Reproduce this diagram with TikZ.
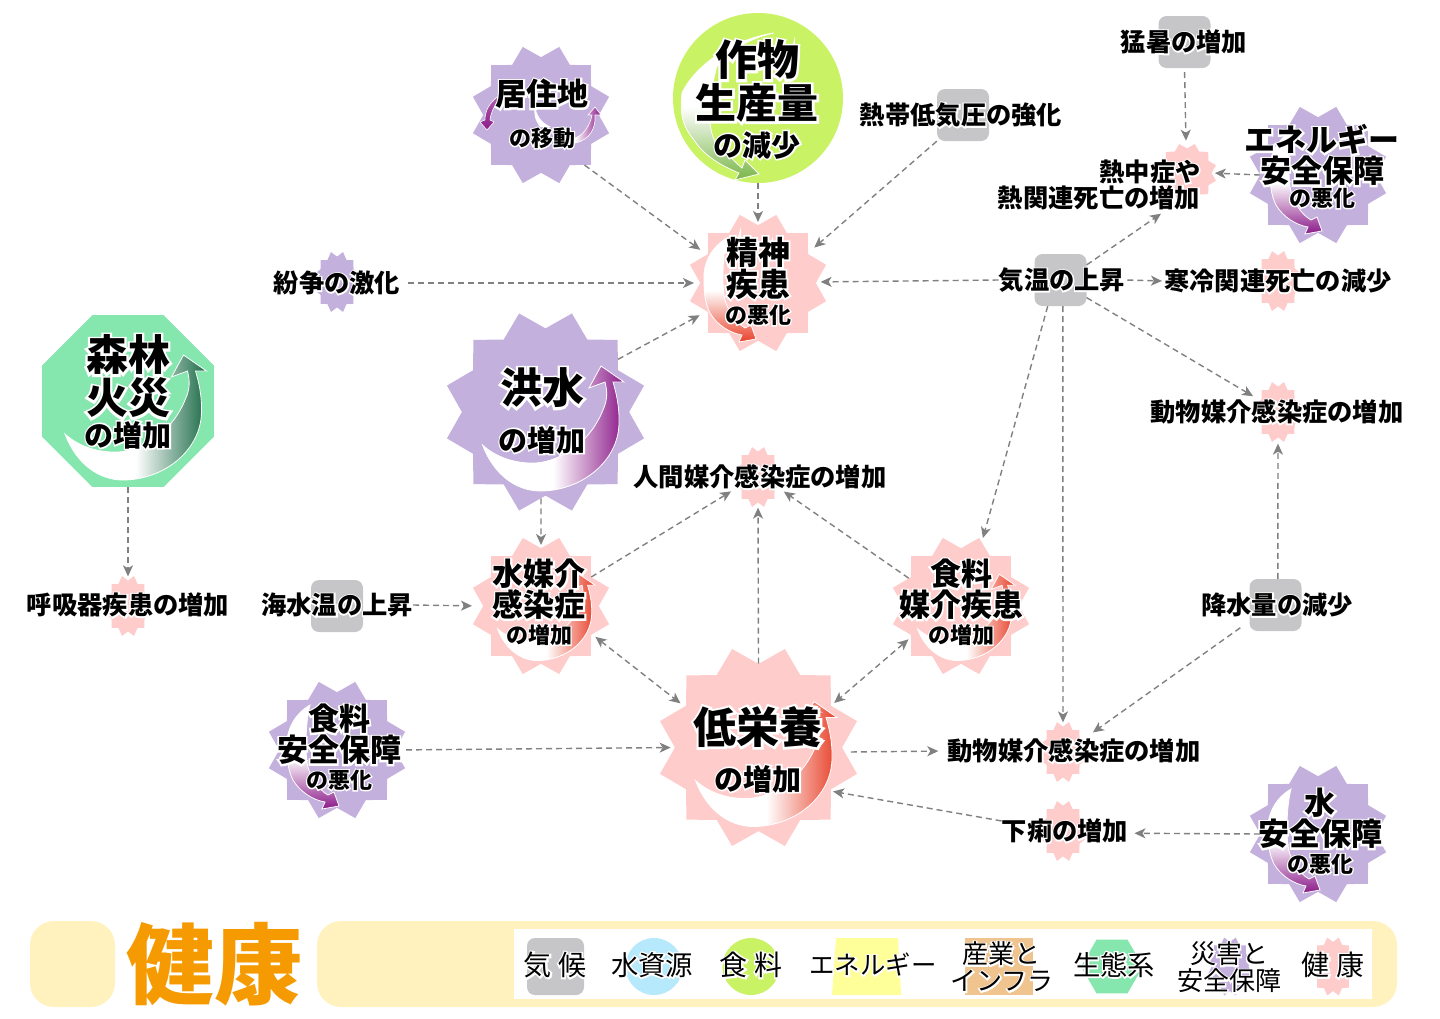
\documentclass[tikz,border=0pt]{standalone}
\usepackage{fontspec}
\usetikzlibrary{arrows.meta,shapes.geometric}
\newfontfamily\jp{Noto Sans CJK JP}
\newfontfamily\jph{Noto Sans CJK JP}[FakeBold=11]
\definecolor{cgray}{HTML}{C6C6C8}
\definecolor{cpurple}{HTML}{C3B0DC}
\definecolor{cpink}{HTML}{FFCCCC}
\definecolor{cgreen}{HTML}{C9F264}
\definecolor{cmint}{HTML}{85E6AE}
\definecolor{ccream}{HTML}{FFF2BF}
\definecolor{corange}{HTML}{F59A00}
\definecolor{csky}{HTML}{B5E9FB}
\definecolor{cyel}{HTML}{FFFF99}
\definecolor{ctan}{HTML}{EFC48E}
\definecolor{cline}{HTML}{808080}
\definecolor{apurple}{HTML}{8B1A89}
\definecolor{ared}{HTML}{E8412A}
\definecolor{agreen}{HTML}{7AB648}
\definecolor{adark}{HTML}{1C6B47}
\newcommand{\halo}[1]{\leavevmode\rlap{\color{white}\jph #1}#1}
\newcommand{\upswoosh}[4]{%
  \shadedraw[draw=white,line width=.8pt,left color=white,right color=#4,middle color=white,shift={(#1,#2)},scale=#3]
    (-63,33) .. controls (-52,62) and (-30,79) .. (-5,79)
    .. controls (35,79) and (73,50) .. (73.5,11)
    .. controls (74,-5) and (71,-18) .. (67.5,-30)
    -- (78.5,-30) -- (55.5,-46) -- (43.5,-24) -- (59.5,-30)
    .. controls (62,-20) and (62,-12) .. (57.5,-2)
    .. controls (52,12) and (42,26) .. (29.5,35)
    .. controls (18,44) and (4,50) .. (-9.5,51)
    .. controls (-30,52) and (-50,45) .. (-63,33) -- cycle;}
\newcommand{\downswoosh}[4]{%
  \shadedraw[draw=white,line width=.8pt,top color=white,bottom color=#4,middle color=white,shift={(#1,#2)},scale=#3]
    (-31,-45) .. controls (-48,-35) and (-55,-18) .. (-54,-3)
    .. controls (-54,10) and (-53,20) .. (-48,30)
    .. controls (-41,42) and (-28,50) .. (-16,52)
    -- (-19,59) -- (-2,56) -- (-7,42) -- (-13,45)
    .. controls (-22,40) and (-30,28) .. (-33,17)
    .. controls (-36,5) and (-36,-25) .. (-31,-45) -- cycle;}
\tikzset{
  starnode/.style={star,star points=12,star point ratio=1.22,shape border rotate=15,inner sep=0pt,draw=none},
  bigstar/.style={starnode,minimum size=204pt,fill=#1},
  midstar/.style={starnode,minimum size=141pt,fill=#1},
  smallstar/.style={starnode,minimum size=62pt,fill=#1,xscale=.75,transform shape},
  graybox/.style={rectangle,rounded corners=8pt,minimum size=52pt,inner sep=0pt,fill=cgray},
  tx/.style={inner sep=0pt,font=\jp\bfseries\fontsize{#1}{#1}\selectfont,text height=#1*.88pt,text depth=#1*.12pt},
  legtx/.style={inner sep=0pt,font=\jp\fontsize{#1}{#1}\selectfont,text height=#1*.88pt,text depth=#1*.12pt},
  flow/.style={draw=cline,line width=1.4pt,dash pattern=on 6pt off 4pt,-{Stealth[length=11pt,width=10pt,inset=3pt,fill=cline]}},
  flowtwo/.style={draw=cline,line width=1.4pt,dash pattern=on 6pt off 4pt,{Stealth[length=11pt,width=10pt,inset=3pt,fill=cline]}-{Stealth[length=11pt,width=10pt,inset=3pt,fill=cline]}}
}
\begin{document}
\begin{tikzpicture}[x=1pt,y=-1pt]
  \useasboundingbox (0,0) rectangle (1440,1018);

  \node[circle,fill=cgreen,minimum size=170pt,inner sep=0pt] (saku) at (758,98) {};
  \node[regular polygon,regular polygon sides=8,fill=cmint,minimum size=186pt,inner sep=0pt] (shin) at (128,401) {};
  \node[midstar=cpurple] (kyo) at (541,115) {};
  \node[midstar=cpink] (sei) at (758,283) {};
  \node[bigstar=cpurple] (kou) at (545.5,412) {};
  \node[midstar=cpink] (mizu) at (541,606) {};
  \node[midstar=cpink] (shok) at (961,606) {};
  \node[bigstar=cpink] (tei) at (758.5,747.5) {};
  \node[midstar=cpurple] (shokA) at (337,750) {};
  \node[midstar=cpurple] (eneA) at (1318,175) {};
  \node[midstar=cpurple] (mizuA) at (1318,834) {};

  \node[smallstar=cpurple] (fun) at (337,282) {};
  \node[smallstar=cpink] (koS) at (128,606) {};
  \node[smallstar=cpink] (ninS) at (758,477) {};
  \node[smallstar=cpink] (doU) at (1278,412) {};
  \node[smallstar=cpink] (doL) at (1063,752) {};
  \node[smallstar=cpink] (geri) at (1063,831) {};
  \node[smallstar=cpink] (kan) at (1278,281) {};
  \node[starnode,minimum size=60pt,fill=cpink] (nechu) at (1187,173) {};

  \node[graybox] (moB) at (1184.5,42) {};
  \node[graybox] (netB) at (963,115) {};
  \node[graybox] (kiB) at (1060.5,280) {};
  \node[graybox] (kaiB) at (337,606) {};
  \node[graybox] (kuB) at (1275.5,605) {};

  \upswoosh{128}{401}{1}{adark}
  \upswoosh{545.5}{412}{1}{apurple}
  \upswoosh{758.5}{747.5}{1}{ared}
  \upswoosh{541}{606}{.69}{ared}
  \upswoosh{961}{606}{.69}{ared}
  \downswoosh{758}{283}{1}{ared}
  \downswoosh{1324}{175}{1}{apurple}
  \downswoosh{341}{750}{1}{apurple}
  \downswoosh{1322}{834}{1}{apurple}
  \shadedraw[draw=white,line width=.8pt,top color=white,bottom color=agreen,middle color=white]
    (774,33) .. controls (740,38) and (698,60) .. (682,93)
    .. controls (680,115) and (682,125) .. (694,140)
    .. controls (704,156) and (722,166) .. (739,173)
    -- (735,180) -- (759,174) -- (745,160) -- (742,168)
    .. controls (730,158) and (722,146) .. (717,146)
    .. controls (708,130) and (706,105) .. (717,66)
    .. controls (730,50) and (750,38) .. (774,33) -- cycle;
  \shadedraw[draw=white,line width=.6pt,left color=white,right color=apurple]
    (575,143) .. controls (590,140) and (596,128) .. (595,115)
    -- (601,115) -- (595,107) -- (588,115) -- (592,115)
    .. controls (590,125) and (584,135) .. (575,138) -- cycle;
  \shadedraw[draw=white,line width=.6pt,top color=apurple!70,bottom color=apurple]
    (497,97) .. controls (490,103) and (485,110) .. (485,120)
    -- (480,122) -- (487,130) -- (494,122) -- (490,120)
    .. controls (491,112) and (494,106) .. (499,101) -- cycle;
  \fill[white] (535,107) .. controls (537,115) and (540,122) .. (551,127) -- (540,127) .. controls (535,120) and (533,113) .. (535,107) -- cycle;

  \node[tx=31] (kyoA) at (542,94) {\halo{居住地}};
  \node[tx=22] (kyoB) at (542,138) {\halo{の移動}};
  \node[tx=42] (sakuA) at (757,60) {\halo{作物}};
  \node[tx=41] (sakuB) at (757,103) {\halo{生産量}};
  \node[tx=29] (sakuC) at (757,145) {\halo{の減少}};
  \node[tx=25.3] (netT) at (961,115) {\halo{熱帯低気圧の強化}};
  \node[tx=25.3] (moT) at (1184,42) {\halo{猛暑の増加}};
  \node[tx=25.3] (nechuA) at (1150,172) {\halo{熱中症や}};
  \node[tx=25.3] (nechuL) at (1099,198) {\halo{熱関連死亡の増加}};
  \node[tx=31] (eneB) at (1322,140) {\halo{エネルギー}};
  \node[tx=31] (eneC) at (1322,171) {\halo{安全保障}};
  \node[tx=22] (eneD) at (1322,198) {\halo{の悪化}};
  \node[tx=25.3] (funT) at (337,283) {\halo{紛争の激化}};
  \node[tx=32] (seiA) at (758,252) {\halo{精神}};
  \node[tx=32] (seiB) at (758,284) {\halo{疾患}};
  \node[tx=22] (seiC) at (758,315) {\halo{の悪化}};
  \node[tx=25.3] (kiT) at (1062,280) {\halo{気温の上昇}};
  \node[tx=25.3] (kanT) at (1278,281) {\halo{寒冷関連死亡の減少}};
  \node[tx=42] (shinA) at (128,355) {\halo{森林}};
  \node[tx=42] (shinB) at (128,398) {\halo{火災}};
  \node[tx=29] (shinC) at (128,435) {\halo{の増加}};
  \node[tx=42] (kouA) at (542,388) {\halo{洪水}};
  \node[tx=29] (kouB) at (542,440) {\halo{の増加}};
  \node[tx=25.3] (ninT) at (760,477) {\halo{人間媒介感染症の増加}};
  \node[tx=25.3] (doUT) at (1277,412) {\halo{動物媒介感染症の増加}};
  \node[tx=25.3] (koT) at (128,605) {\halo{呼吸器疾患の増加}};
  \node[tx=25.3] (kaiT) at (337,605) {\halo{海水温の上昇}};
  \node[tx=31] (mizuB) at (539,574) {\halo{水媒介}};
  \node[tx=31] (mizuC) at (539,605) {\halo{感染症}};
  \node[tx=22] (mizuD) at (539,635) {\halo{の増加}};
  \node[tx=31] (shokB) at (961,574) {\halo{食料}};
  \node[tx=31] (shokC) at (961,605) {\halo{媒介疾患}};
  \node[tx=22] (shokD) at (961,635) {\halo{の増加}};
  \node[tx=25.3] (kuT) at (1277,605) {\halo{降水量の減少}};
  \node[tx=31] (shokE) at (339,719) {\halo{食料}};
  \node[tx=31] (shokF) at (339,750) {\halo{安全保障}};
  \node[tx=22] (shokG) at (339,780) {\halo{の悪化}};
  \node[tx=43] (teiA) at (758,727) {\halo{低栄養}};
  \node[tx=29] (teiB) at (758,779) {\halo{の増加}};
  \node[tx=25.3] (doLT) at (1074,751) {\halo{動物媒介感染症の増加}};
  \node[tx=25.3] (geriT) at (1065,831) {\halo{下痢の増加}};
  \node[tx=31] (mizuE) at (1320,803) {\halo{水}};
  \node[tx=31] (mizuF) at (1320,834) {\halo{安全保障}};
  \node[tx=22] (mizuG) at (1320,864) {\halo{の悪化}};

  \draw[flow,shorten >=8pt] (kyo.-49) -- (sei.151);
  \draw[flow,shorten >=3pt] (saku) -- (sei);
  \draw[flow,shorten >=8pt] (netB.south west) -- (sei.31);
  \draw[flow,shorten <=8pt,shorten >=6pt] (funT.east) -- (sei.180);
  \draw[flow,shorten >=8pt] (kou.36) -- (sei.209);
  \draw[flow,shorten >=4pt] (kiT.west) -- (sei.1);
  \draw[flow,shorten <=4pt,shorten >=7pt] (moB.south) -- (nechu.92);
  \draw[flow,shorten >=3pt] (eneA.180) -- (nechu.0);
  \draw[flow,shorten >=5pt] (kiB.30) -- (nechuL.-11.6);
  \draw[flow,shorten <=2pt,shorten >=2pt] (kiT.east) -- (kanT.west);
  \draw[flow,shorten >=8pt] (kiB.-34) -- (doU.154);
  \draw[flow,shorten >=4pt] (kiB.-116) -- (shok.72);
  \draw[flow,shorten >=4pt] (kiB.-85) -- (doL.90);
  \draw[flow,shorten >=6pt] (kuB.85) -- (doU.-90);
  \draw[flow,shorten <=11pt,shorten >=14pt] (kuB.212) -- (doL.25);
  \draw[flow,shorten >=4pt] (shin.south) -- (koS.90);
  \draw[flow,shorten >=3pt] (kou.-93) -- (mizu.90);
  \draw[flow,shorten >=11pt] (kaiT.east) -- (mizu.180);
  \draw[flow,shorten >=3pt] (mizu.30) -- (ninT.206.6);
  \draw[flow,shorten >=5pt] (tei.90) -- (ninS.-90);
  \draw[flow,shorten >=3pt] (shok.152) -- (ninT.-31);
  \draw[flowtwo,shorten <=4pt,shorten >=5pt] (mizu.-29) -- (tei.151);
  \draw[flowtwo,shorten <=3pt,shorten >=4pt] (shok.212) -- (tei.30);
  \draw[flow,shorten <=11pt,shorten >=4pt] (shokA.0) -- (tei.180);
  \draw[flow,shorten <=6pt,shorten >=9pt] (tei.-3) -- (doLT.west);
  \draw[flow,shorten >=2pt] (geriT.171) -- (tei.-31);
  \draw[flow,shorten >=6pt] (mizuA.180) -- (geriT.-2);

  \node[rectangle,rounded corners=24pt,fill=ccream,minimum width=85pt,minimum height=86pt,inner sep=0pt] (tab) at (72.5,964) {};
  \node[rectangle,rounded corners=24pt,fill=ccream,minimum width=1080pt,minimum height=86pt,inner sep=0pt] (bar) at (857,964) {};
  \node[rectangle,fill=white,minimum width=858pt,minimum height=70pt,inner sep=0pt] (legend) at (943,964) {};
  \node[inner sep=0pt,text=corange,font=\jp\bfseries\fontsize{88}{88}\selectfont] (title) at (214,964) {健康};

  \node[rectangle,rounded corners=8pt,fill=cgray,minimum width=57pt,minimum height=57pt,inner sep=0pt] (lgA) at (555.5,966.5) {};
  \node[circle,fill=csky,minimum size=57pt,inner sep=0pt] (lgB) at (654,966.5) {};
  \node[circle,fill=cgreen,minimum size=57pt,inner sep=0pt] (lgC) at (751,966.5) {};
  \fill[cyel] (836,938) -- (898,938) -- (901,995) -- (832,995) -- cycle;
  \node[rectangle,fill=ctan,minimum width=68pt,minimum height=57pt,inner sep=0pt] (lgE) at (999,966.5) {};
  \node[regular polygon,regular polygon sides=6,fill=cmint,minimum size=62pt,inner sep=0pt] (lgF) at (1112,966.5) {};
  \node[starnode,minimum size=60pt,fill=cpurple,xscale=.75,transform shape] (lgG) at (1230,966.5) {};
  \node[starnode,minimum size=60pt,fill=cpink,xscale=.75,transform shape] (lgH) at (1333,966.5) {};

  \node[legtx=28] (lgAT) at (555,965) {\halo{気 候}};
  \node[legtx=27.3] (lgBT) at (652,965) {\halo{水資源}};
  \node[legtx=28] (lgCT) at (751,965) {\halo{食 料}};
  \node[legtx=25.4] (lgDT) at (873,965) {\halo{エネルギー}};
  \node[legtx=26] (lgET) at (1001,954) {\halo{産業と}};
  \node[legtx=26] (lgFT) at (1002,981) {\halo{インフラ}};
  \node[legtx=27.3] (lgGT) at (1114,965) {\halo{生態系}};
  \node[legtx=26] (lgHT) at (1229,954) {\halo{災害と}};
  \node[legtx=26] (lgIT) at (1229,981) {\halo{安全保障}};
  \node[legtx=28] (lgJT) at (1333,965) {\halo{健 康}};
\end{tikzpicture}
\end{document}
